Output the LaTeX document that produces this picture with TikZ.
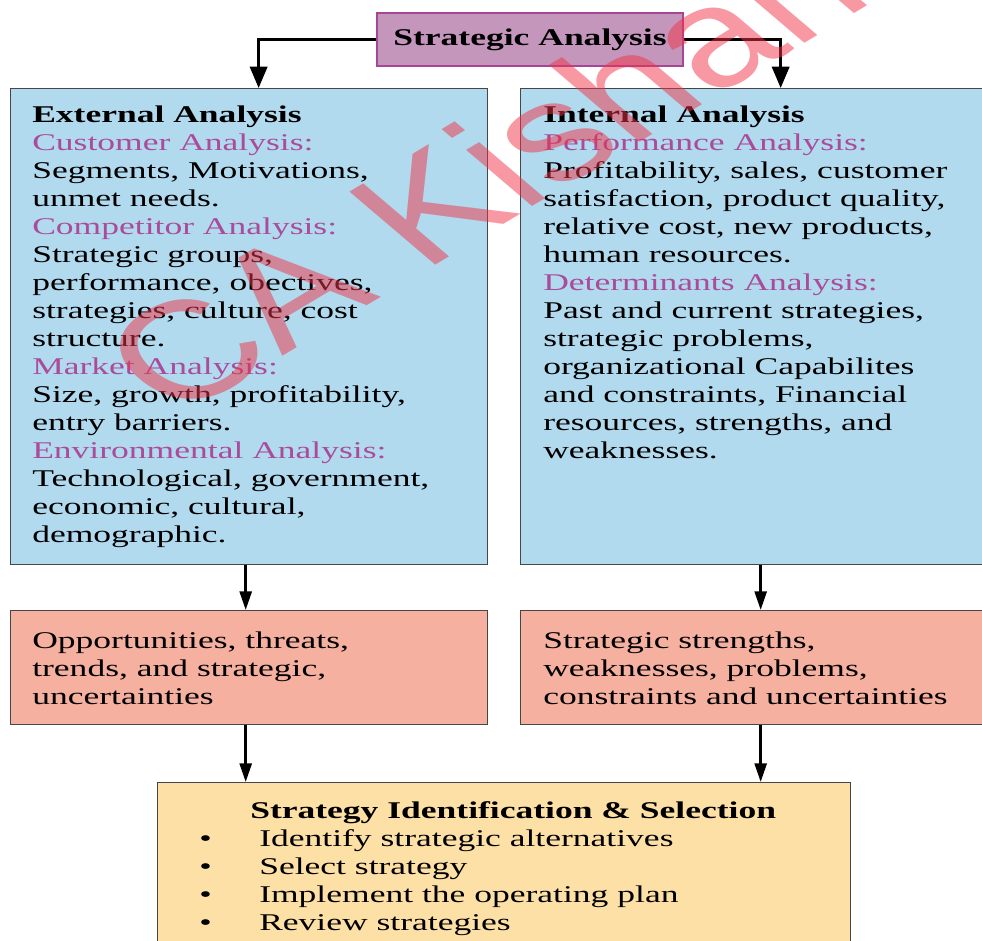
\documentclass[tikz,border=0pt]{standalone}
\usepackage{fontspec}
\setmainfont{Liberation Serif}[FakeStretch=1.48]
\newfontfamily\markfont{Liberation Sans}
\usetikzlibrary{arrows.meta, positioning, calc}

\definecolor{topfill}{RGB}{196,150,188}
\definecolor{topline}{RGB}{168,70,150}
\definecolor{bluefill}{RGB}{178,218,238}
\definecolor{salmonfill}{RGB}{245,176,160}
\definecolor{yellowfill}{RGB}{253,224,166}
\definecolor{headpurple}{RGB}{170,75,155}
\definecolor{boxline}{RGB}{70,70,70}
\definecolor{markred}{RGB}{240,50,70}

\newcommand{\subhead}[1]{\textcolor{headpurple}{#1}}
\newcommand{\bulletitem}[1]{\makebox[45pt][l]{\textbullet}#1}

\begin{document}
\begin{tikzpicture}[x=0.75pt, y=-0.75pt,
    box/.style={draw=boxline, line width=1pt, anchor=north west, inner sep=0pt},
    txt/.style={anchor=north west, align=left, inner sep=0pt, font=\fontsize{18}{21}\selectfont},
    arr/.style={line width=2pt, -{Triangle[length=14pt, width=9pt]}},
    toparr/.style={line width=2pt, -{Triangle[length=16pt, width=13pt]}}]
    \useasboundingbox (0,0) rectangle (982,940);

    % Top node
    \node[draw=topline, fill=topfill, line width=1.1pt, minimum width=229.5pt, minimum height=39.75pt, inner sep=0pt, font=\fontsize{18}{21}\selectfont\bfseries] (top) at (530,39.5) {Strategic Analysis};

    % Analysis boxes
    \node[box, fill=bluefill, minimum width=357.75pt, minimum height=357pt] (ext) at (10,88) {};
    \node[box, fill=bluefill, minimum width=360pt, minimum height=357pt] (int) at (520,88) {};

    \node[txt] (exttxt) at ($(ext.north west)+(22,14.4)$) {\strut\textbf{External Analysis}\\
        \subhead{Customer Analysis:}\\
        Segments, Motivations,\\
        unmet needs.\\
        \subhead{Competitor Analysis:}\\
        Strategic groups,\\
        performance, obectives,\\
        strategies, culture, cost\\
        structure.\\
        \subhead{Market Analysis:}\\
        Size, growth, profitability,\\
        entry barriers.\\
        \subhead{Environmental Analysis:}\\
        Technological, government,\\
        economic, cultural,\\
        demographic.};
    \node[txt] (inttxt) at ($(int.north west)+(23,14.4)$) {\strut\textbf{Internal Analysis}\\
        \subhead{Performance Analysis:}\\
        Profitability, sales, customer\\
        satisfaction, product quality,\\
        relative cost, new products,\\
        human resources.\\
        \subhead{Determinants Analysis:}\\
        Past and current strategies,\\
        strategic problems,\\
        organizational Capabilites\\
        and constraints, Financial\\
        resources, strengths, and\\
        weaknesses.};

    % Outcome boxes
    \node[box, fill=salmonfill, minimum width=357.75pt, minimum height=85.5pt] (opp) at (10,610) {};
    \node[box, fill=salmonfill, minimum width=360pt, minimum height=85.5pt] (swp) at (520,610) {};
    \node[txt] (opptxt) at ($(opp.north west)+(22,18.4)$) {\strut Opportunities, threats,\\ trends, and strategic,\\ uncertainties};
    \node[txt] (swptxt) at ($(swp.north west)+(23,18.4)$) {\strut Strategic strengths,\\ weaknesses, problems,\\ constraints and uncertainties};

    % Selection box
    \node[box, fill=yellowfill, minimum width=519.75pt, minimum height=127.5pt] (sel) at (157,782) {};
    \node[txt] (seltxt) at ($(sel.north west)+(42,16.4)$) {\strut\hspace*{38.25pt}\textbf{Strategy Identification \& Selection}\\
        \bulletitem{Identify strategic alternatives}\\
        \bulletitem{Select strategy}\\
        \bulletitem{Implement the operating plan}\\
        \bulletitem{Review strategies}};

    % Connections
    \draw[toparr] (top.west) -| ([xshift=7.1pt]ext.north);
    \draw[toparr] (top.east) -| ([xshift=15pt]int.north);
    \draw[arr] ([xshift=-2.6pt]ext.south) -- ([xshift=-2.6pt]opp.north);
    \draw[arr] (int.south) -- (swp.north);
    \draw[arr] ([xshift=-2.6pt]opp.south) -- ([xshift=-2.6pt]opp.south |- sel.north);
    \draw[arr] (swp.south) -- (swp.south |- sel.north);

    % Watermark
    \begin{scope}[shift={(482,172)}, xscale=1.4, rotate=40]
        \node[transform shape, text=markred, text opacity=0.5, font=\markfont\fontsize{104}{104}\selectfont] (mark) at (0,0) {CA Kishan};
    \end{scope}
\end{tikzpicture}
\end{document}
